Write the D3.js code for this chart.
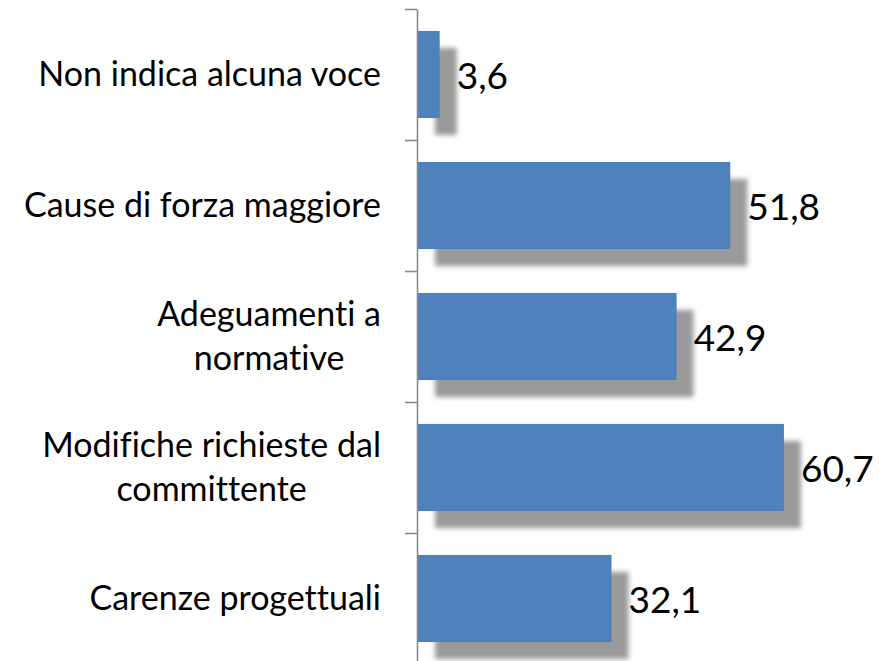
<!DOCTYPE html>
<html>
<head>
<meta charset="utf-8">
<script src="https://cdn.jsdelivr.net/npm/d3@7"></script>
<style>
  html, body { margin: 0; padding: 0; background: #fff; }
  svg { display: block; }
  text { font-family: Lato, "Open Sans", sans-serif; fill: #000; font-variant-ligatures: none; }
</style>
</head>
<body>
<svg id="chart" width="879" height="661"></svg>
<script>
// Motivi delle varianti (%)
const categories = [
  "Non indica alcuna voce",
  "Cause di forza maggiore",
  "Adeguamenti a normative",
  "Modifiche richieste dal committente",
  "Carenze progettuali"
];
const values = [3.6, 51.8, 42.9, 60.7, 32.1];
const xDomain = [0, 70];

const W = 879, H = 661;
const plotLeft = 418, plotRight = 840;
const plotTop = 9, plotBottom = 664;

const svg = d3.select("#chart");

const defs = svg.append("defs");
defs.append("filter")
  .attr("id", "shadowBlur")
  .attr("x", "-20%").attr("y", "-20%")
  .attr("width", "140%").attr("height", "140%")
  .append("feGaussianBlur")
  .attr("stdDeviation", 2.6);

const x = d3.scaleLinear().domain(xDomain).range([plotLeft, plotRight]);
const y = d3.scaleBand()
  .domain(categories)
  .range([plotTop, plotBottom])
  .paddingInner(0.335)
  .paddingOuter(0.1675);

// boundaries between categories, for the axis ticks
const yEdge = d3.scaleLinear().domain([0, categories.length]).range([plotTop, plotBottom]);

const data = categories.map((c, i) => ({ cat: c, v: values[i] }));

// drop shadows
svg.append("g").selectAll("rect")
  .data(data)
  .join("rect")
  .attr("x", x(0) + 17)
  .attr("y", d => y(d.cat) + 17)
  .attr("width", d => x(d.v) - x(0))
  .attr("height", y.bandwidth())
  .attr("fill", "#9a9a9a")
  .attr("filter", "url(#shadowBlur)");

// bars
svg.append("g").selectAll("rect")
  .data(data)
  .join("rect")
  .attr("x", x(0))
  .attr("y", d => y(d.cat))
  .attr("width", d => x(d.v) - x(0))
  .attr("height", y.bandwidth())
  .attr("fill", "#4f81bd");

// category axis
const axis = svg.append("g")
  .attr("transform", `translate(${plotLeft - 1},0)`)
  .call(d3.axisLeft(yEdge)
    .tickValues(d3.range(categories.length + 1))
    .tickFormat("")
    .tickSize(12)
    .tickSizeOuter(0));
axis.select(".domain").attr("stroke", "#8a8a8a").attr("stroke-width", 1.6);
axis.selectAll(".tick line").attr("stroke", "#8a8a8a").attr("stroke-width", 1.6);

// value labels
const itFormat = d3.formatLocale({ decimal: ",", thousands: ".", grouping: [3], currency: ["", "€"] }).format(".1f");
svg.append("g").selectAll("text")
  .data(data)
  .join("text")
  .attr("x", d => x(d.v) + 17)
  .attr("y", d => y(d.cat) + y.bandwidth() / 2 + 14)
  .attr("font-size", 37)
  .text(d => itFormat(d.v));

// category labels, wrapped and centred as a block right-aligned to the axis
const labelFont = 34;
const labelRight = 381;
const wrapWidth = 372;
const lineGap = 44;
const labels = svg.append("g").attr("font-size", labelFont);

data.forEach(d => {
  const probe = labels.append("text");
  const words = d.cat.split(" ");
  const lines = [];
  let cur = [];
  words.forEach(w => {
    const trial = cur.concat(w).join(" ");
    probe.text(trial);
    if (cur.length && probe.node().getComputedTextLength() > wrapWidth) {
      lines.push(cur.join(" "));
      cur = [w];
    } else {
      cur.push(w);
    }
  });
  lines.push(cur.join(" "));
  const widths = lines.map(l => { probe.text(l); return probe.node().getComputedTextLength(); });
  probe.remove();
  const blockW = d3.max(widths);
  const cx = labelRight - blockW / 2;
  const mid = y(d.cat) + y.bandwidth() / 2;
  const first = mid + 11 - (lines.length - 1) * lineGap / 2;
  const t = labels.append("text").attr("text-anchor", "middle");
  lines.forEach((l, i) => {
    t.append("tspan").attr("x", cx).attr("y", first + i * lineGap).text(l);
  });
});
</script>
</body>
</html>
